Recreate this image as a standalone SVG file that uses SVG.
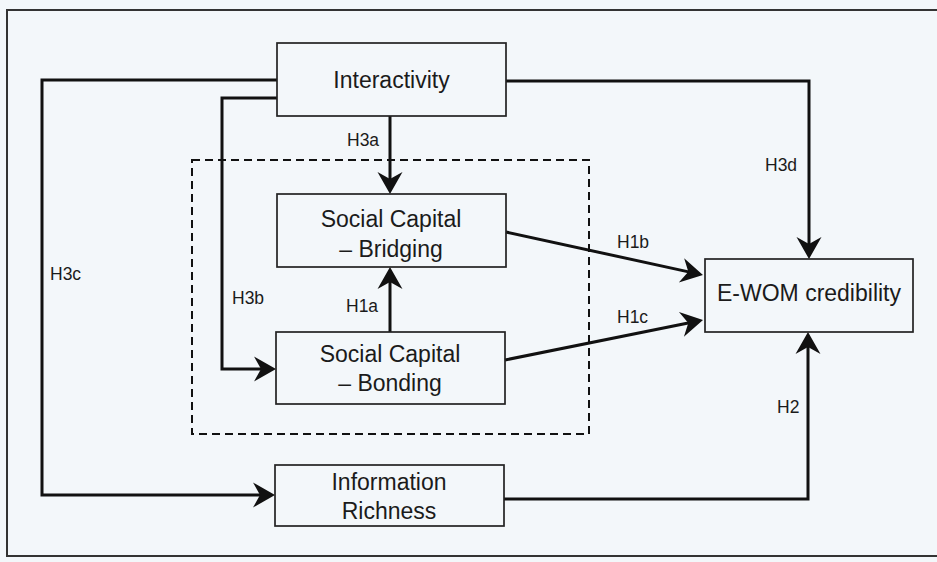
<svg xmlns="http://www.w3.org/2000/svg" width="937" height="562" viewBox="0 0 937 562">
  <style>
    .box { fill: none; stroke: #222; stroke-width: 1.7; }
    .node { font-family: "Liberation Sans", Arial, sans-serif; font-size: 23px; fill: #1b1b1b; text-anchor: middle; }
    .lbl { font-family: "Liberation Sans", Arial, sans-serif; font-size: 17.5px; fill: #1b1b1b; }
    .edge { fill: none; stroke: #111; stroke-width: 3; marker-end: url(#arrow); }
  </style>
  <defs>
    <!-- barbed arrowhead; tip sits 10 units beyond the path end -->
    <marker id="arrow" markerUnits="userSpaceOnUse" markerWidth="40" markerHeight="40" refX="0" refY="0" orient="auto" overflow="visible">
      <path d="M10,0 L-12,-12.5 L-5,0 L-12,12.5 Z" fill="#111"/>
    </marker>
  </defs>

  <!-- page background and frame -->
  <rect x="0" y="0" width="937" height="562" fill="#f3f7fa"/>
  <path d="M940,10 H7 V556 H940" fill="none" stroke="#333" stroke-width="2"/>

  <!-- grouping of the two social capital constructs -->
  <rect id="social-capital-group" x="192" y="160" width="397" height="274" fill="none" stroke="#111" stroke-width="2" stroke-dasharray="8 5"/>

  <g id="connectors">
    <path class="edge" d="M277,80 H42 V495 H265"/>
    <path class="edge" d="M277,98 H222 V369 H266"/>
    <path class="edge" d="M390,116 V184"/>
    <path class="edge" d="M390,332 V277"/>
    <path class="edge" d="M506,81 H809 V249"/>
    <path class="edge" d="M506,232 L693.2,272.9"/>
    <path class="edge" d="M505,360 L693.2,322"/>
    <path class="edge" d="M504,499 H808 V342"/>
  </g>

  <g id="labels">
    <text class="lbl" x="347" y="146">H3a</text>
    <text class="lbl" x="765" y="171">H3d</text>
    <text class="lbl" x="617" y="248">H1b</text>
    <text class="lbl" x="50" y="280">H3c</text>
    <text class="lbl" x="232" y="304">H3b</text>
    <text class="lbl" x="346" y="312">H1a</text>
    <text class="lbl" x="617" y="323">H1c</text>
    <text class="lbl" x="777" y="413">H2</text>
  </g>

  <g id="interactivity">
    <rect class="box" x="277" y="43" width="229" height="73"/>
    <text class="node" x="391.5" y="88">Interactivity</text>
  </g>

  <g id="bridging">
    <rect class="box" x="277" y="194" width="229" height="73"/>
    <text class="node" x="391" y="227">Social Capital</text>
    <text class="node" x="391" y="257">– Bridging</text>
  </g>

  <g id="bonding">
    <rect class="box" x="276" y="332" width="229" height="72"/>
    <text class="node" x="390" y="362">Social Capital</text>
    <text class="node" x="390" y="391">– Bonding</text>
  </g>

  <g id="information-richness">
    <rect class="box" x="275" y="465" width="229" height="61"/>
    <text class="node" x="389" y="490">Information</text>
    <text class="node" x="389" y="519">Richness</text>
  </g>

  <g id="ewom-credibility">
    <rect class="box" x="705" y="259" width="208" height="73"/>
    <text class="node" x="809" y="301">E-WOM credibility</text>
  </g>
</svg>
